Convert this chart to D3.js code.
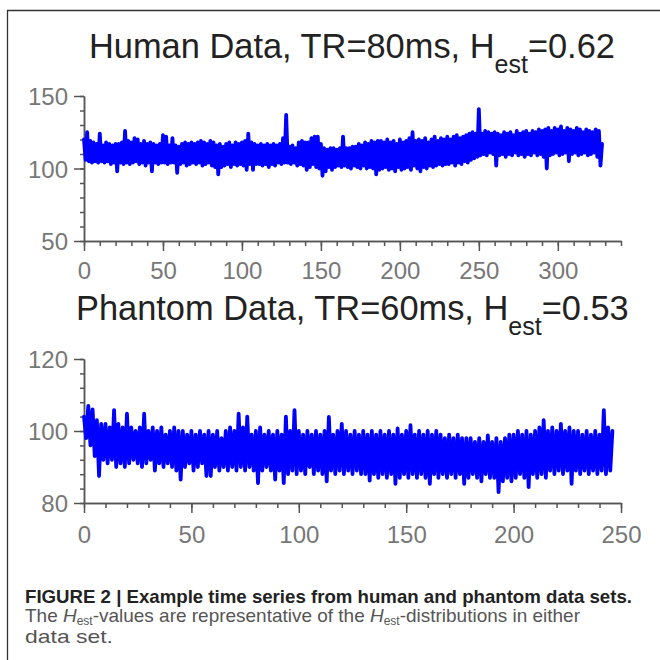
<!DOCTYPE html>
<html>
<head>
<meta charset="utf-8">
<script src="https://cdn.jsdelivr.net/npm/d3@7"></script>
<style>
  body { margin: 0; background: #fff; }
  svg { display: block; font-family: "Liberation Sans", Arial, sans-serif; }
</style>
</head>
<body>
<div id="chart"></div>
<script>
// sample spacing of both series, in seconds
var humanStep = 1;
var phantomStep = 1;

// human series, TR=80ms (one value per second)
var humanValues = [
  120,106,125,105,119,104,118,105,117,104,
  124,105,116,104,118,105,117,103,116,104,
  117,98,117,104,118,103,126,104,119,103,
  118,104,121,105,120,103,117,104,119,102,
  117,104,118,98,117,104,116,103,117,104,
  123,104,122,103,116,104,121,104,116,97,
  115,103,117,104,118,102,117,103,118,104,
  117,103,118,104,119,102,118,103,117,104,
  119,102,118,101,116,96,117,101,115,102,
  117,103,118,101,116,103,118,102,117,103,
  118,102,119,99,124,103,118,99,117,103,
  116,103,117,102,116,103,117,101,116,103,
  117,102,116,104,117,103,121,104,137,104,
  115,103,116,104,114,102,118,103,119,102,
  118,99,118,101,121,103,122,101,122,100,
  117,95,114,98,113,101,114,99,114,101,
  113,102,114,101,122,102,114,101,114,100,
  115,102,115,101,117,100,116,102,118,100,
  117,101,119,100,118,96,119,99,119,100,
  118,101,120,99,118,100,119,98,117,101,
  120,99,118,100,119,101,121,99,125,102,
  119,100,120,98,119,101,121,100,118,102,
  120,101,122,102,119,103,121,102,120,103,
  122,103,120,104,122,102,123,104,121,103,
  122,105,123,104,124,106,125,107,124,108,
  141,109,124,110,126,109,125,111,124,110,
  125,102,124,109,123,110,125,108,124,110,
  125,109,123,111,126,109,124,110,125,108,
  126,110,124,109,126,111,125,109,127,110,
  126,108,127,100,128,109,126,110,128,111,
  127,109,129,110,126,111,128,105,127,110,
  126,111,128,109,127,110,125,111,127,109,
  126,110,125,111,127,108,126,102,117
];

// phantom series, TR=60ms
var phantomValues = [
  104,98,107,96,106,93,103,87.5,102,92,
  102,91,101,92,105.8,90,102,91,101,90,
  104.8,91,101,92,100,91,101,90,104.8,91,
  100,92,101,89,100,91,101,90,99,91,
  100,90,101,89,100,86.5,100,90,99,91,
  100,89,99,90,100,91,99,87.5,100,87.5,
  99,90,100,89,98,90,100,89,101,90,
  100,89,104.8,90,101,89,104,90,99,89,
  100,85.5,101,89,99,90,100,89,99,86.5,
  100,89,99,85.5,104,88,100,89,105.8,88,
  100,89,99,88,100,90,99,88,100,89,
  99,88,100,86,103.9,89,99,88,100,89,
  102,88,100,89,99,88,100,89,99,88,
  100,88,99,86.2,100,88,99,87,100,88,
  99,87,100,88,99,85.3,100.7,87,99,88,
  100,87,101.6,88,99,87,100,88,99,87,
  100,85.3,99,88,100,87,99,88,98,87,
  99,88,98,87,99,88,98,85.3,98,87,
  98,88,97,87,98,86,97,88,98.8,87,
  97,87,98,83,97,86,98,87,99,86,
  99,87,100,88,99,87,100,84.4,99,88,
  100,87,101,88,103,87,100,89,101,88,
  100,89,102,88,100,89,101,85.3,100,89,
  100,88,99,89,100,88,99,89,100,88,
  99,89,105.8,88,101,89,100
];

var panels = [
  { name: "Human Data, TR=80ms, H", hval: "=0.62", values: humanValues, step: humanStep,
    xDomain: [0, 340], xMajor: [0, 50, 100, 150, 200, 250, 300], xMinor: d3.range(0, 341, 10),
    yDomain: [50, 150], yMajor: [50, 100, 150], yMinor: d3.range(50, 151, 10) },
  { name: "Phantom Data, TR=60ms, H", hval: "=0.53", values: phantomValues, step: phantomStep,
    xDomain: [0, 250], xMajor: [0, 50, 100, 150, 200, 250], xMinor: d3.range(0, 251, 10),
    yDomain: [80, 120], yMajor: [80, 100, 120], yMinor: d3.range(80, 121, 4) }
];

// layout of each panel (pixels)
var boxes = [
  { x0: 84, x1: 621, yTop: 96, yBot: 241, titleX: 89, titleY: 58, labelY: 279 },
  { x0: 84, x1: 621, yTop: 359, yBot: 503, titleX: 76, titleY: 320, labelY: 543 }
];

var W = 660, H = 660;
var svg = d3.select("#chart").append("svg")
    .attr("width", W)
    .attr("height", H);

// frame
svg.append("path")
    .attr("d", "M7.5," + H + "V10.5H" + W)
    .attr("fill", "none")
    .attr("stroke", "#333")
    .attr("stroke-width", 1.3);

panels.forEach(function(p, i) {
    var b = boxes[i];
    var x = d3.scaleLinear().domain(p.xDomain).range([b.x0, b.x1]);
    var y = d3.scaleLinear().domain(p.yDomain).range([b.yBot, b.yTop]);

    // title with subscript
    var t = svg.append("text")
        .attr("x", b.titleX)
        .attr("y", b.titleY)
        .attr("font-size", 34.4)
        .attr("fill", "#222");
    t.append("tspan").text(p.name);
    t.append("tspan").attr("dy", 15).attr("font-size", 25).text("est");
    t.append("tspan").attr("dy", -15).text(p.hval);

    // minor ticks
    svg.append("g")
        .attr("transform", "translate(0," + b.yBot + ")")
        .call(d3.axisBottom(x).tickValues(p.xMinor).tickSize(5).tickSizeOuter(0).tickFormat(""))
        .call(styleAxis);
    svg.append("g")
        .attr("transform", "translate(" + b.x0 + ",0)")
        .call(d3.axisLeft(y).tickValues(p.yMinor).tickSize(4).tickSizeOuter(0).tickFormat(""))
        .call(styleAxis);

    // major ticks + labels
    var xa = svg.append("g")
        .attr("transform", "translate(0," + b.yBot + ")")
        .call(d3.axisBottom(x).tickValues(p.xMajor).tickSize(10).tickSizeOuter(0))
        .call(styleAxis);
    xa.selectAll("text").attr("y", null).attr("dy", null)
        .attr("transform", "translate(0," + (b.labelY - b.yBot) + ")");

    var ya = svg.append("g")
        .attr("transform", "translate(" + b.x0 + ",0)")
        .call(d3.axisLeft(y).tickValues(p.yMajor).tickSize(10).tickSizeOuter(0))
        .call(styleAxis);
    ya.selectAll("text").attr("x", -16).attr("dy", "0.36em");

    // the series
    var line = d3.line()
        .x(function(d, k) { return x(k * p.step); })
        .y(function(d) { return y(d); });

    svg.append("path")
        .datum(p.values)
        .attr("d", line)
        .attr("fill", "none")
        .attr("stroke", "#0000ff")
        .attr("stroke-width", 3.8)
        .attr("stroke-linejoin", "round")
        .attr("stroke-linecap", "round");
});

function styleAxis(g) {
    g.select(".domain").attr("stroke", "#555").attr("stroke-width", 1.5);
    g.selectAll(".tick line").attr("stroke", "#555").attr("stroke-width", 1.5);
    g.selectAll(".tick text")
        .attr("font-size", 24)
        .attr("font-family", "Liberation Sans, Arial, sans-serif")
        .attr("fill", "#777");
}

// caption
svg.append("text")
    .attr("x", 25).attr("y", 603)
    .attr("font-size", 19).attr("font-weight", "bold").attr("fill", "#222")
    .attr("textLength", 607).attr("lengthAdjust", "spacingAndGlyphs")
    .text("FIGURE 2 | Example time series from human and phantom data sets.");

var cap2 = svg.append("text")
    .attr("x", 25).attr("y", 622)
    .attr("font-size", 19).attr("fill", "#555")
    .attr("textLength", 555).attr("lengthAdjust", "spacingAndGlyphs");
cap2.append("tspan").text("The ");
cap2.append("tspan").attr("font-style", "italic").text("H");
cap2.append("tspan").attr("font-size", 12).attr("dy", 2.5).text("est");
cap2.append("tspan").attr("dy", -2.5).text("-values are representative of the ");
cap2.append("tspan").attr("font-style", "italic").text("H");
cap2.append("tspan").attr("font-size", 12).attr("dy", 2.5).text("est");
cap2.append("tspan").attr("dy", -2.5).text("-distributions in either");

svg.append("text")
    .attr("x", 25).attr("y", 643)
    .attr("font-size", 19).attr("fill", "#555")
    .attr("textLength", 88).attr("lengthAdjust", "spacingAndGlyphs")
    .text("data set.");
</script>
</body>
</html>
